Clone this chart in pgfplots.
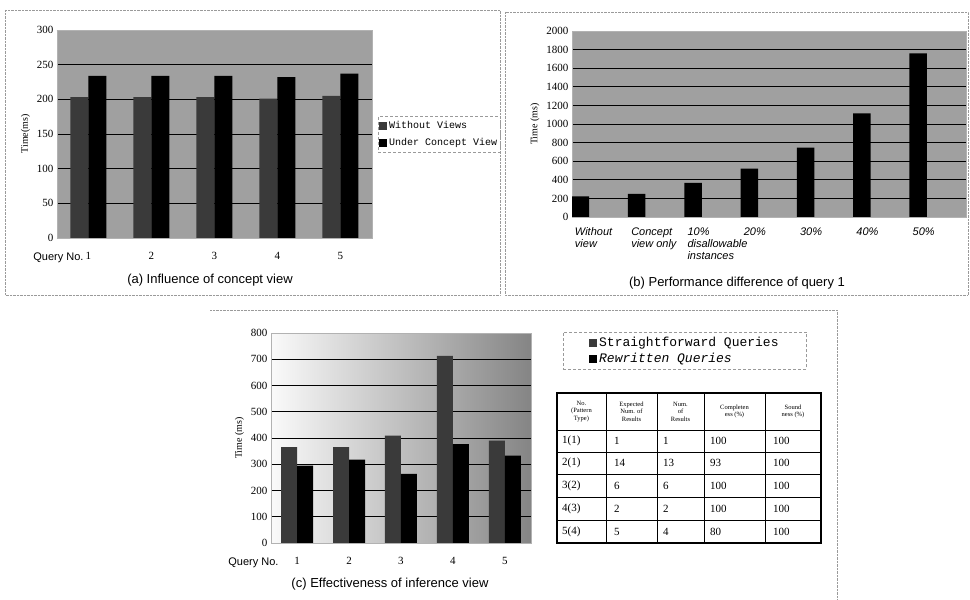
\documentclass[border=0pt]{standalone}
\usepackage{pgfplots}
\pgfplotsset{compat=1.18}
\usepackage{fontspec}
\setmainfont{Liberation Serif}
\setsansfont{Liberation Sans}
\setmonofont{Liberation Mono}

\definecolor{plotbg}{HTML}{A0A0A0}
\definecolor{darkbar}{HTML}{3A3A3A}
\definecolor{framegray}{HTML}{9A9A9A}

\pgfplotsset{
  panel/.style={
    scale only axis,
    anchor=south west,
    ybar=0pt,
    axis background/.style={fill=plotbg},
    ymajorgrids,
    grid style={black, line width=0.7pt},
    axis line style={gray!60},
    major tick length=0pt,
    tick label style={font=\fontsize{11}{12}\selectfont},
    /pgf/number format/assume math mode=true,
    /pgf/number format/1000 sep={},
    ylabel style={font=\fontsize{10}{12}\selectfont},
    legend cell align=left,
    legend image code/.code={\fill[##1] (0pt,-4pt) rectangle (8pt,4pt);},
    legend style={draw=framegray, densely dashed, fill=white,
      font=\ttfamily\fontsize{10}{12}\selectfont},
  },
}
\tikzset{caption/.style={font=\sffamily\fontsize{13}{15}\selectfont}}

\begin{document}
\begin{tikzpicture}[x=1pt,y=1pt]
\path[use as bounding box, fill=white] (0,0) rectangle (970,600);

% panel frames
\draw[framegray, densely dotted] (5,590) rectangle (500,305);
\draw[framegray, densely dotted] (505,588) rectangle (968,305);
\draw[framegray, densely dotted] (210,290) -- (837,290) -- (837,0);

% (a) Influence of concept view
\begin{axis}[panel, at={(57pt,362pt)}, width=315pt, height=208pt,
  ymin=0, ymax=300, ytick={0,50,...,300},
  xmin=0.5, xmax=5.5, xtick={1,2,3,4,5},
  xticklabel style={yshift=-11pt},
  bar width=18pt,
  ylabel={Time(ms)},
  legend style={at={(1.019,0.585)}, anchor=north west,
    inner xsep=1pt, inner ysep=3pt, row sep=4pt}]
\addplot[fill=darkbar, draw=none] coordinates {(1,203) (2,203) (3,203) (4,201) (5,205)};
\addlegendentry{Without Views}
\addplot[fill=black, draw=none] coordinates {(1,234) (2,234) (3,234) (4,232) (5,237)};
\addlegendentry{Under Concept View}
\end{axis}
\node[anchor=east, font=\sffamily\fontsize{11}{13}\selectfont] at (87,342) {Query No.};
\node[caption] at (210,320) {(a) Influence of concept view};

% (b) Performance difference of query 1
\begin{axis}[panel, at={(572pt,383pt)}, width=394pt, height=186pt,
  ymin=0, ymax=2000, ytick={0,200,...,2000},
  xmin=-0.15, xmax=6.85, xtick={0,1,...,6},
  xticklabels={{Without\\view},{Concept\\view only},{10\%\\disallowable\\instances},
    20\%,30\%,40\%,50\%},
  xticklabel style={anchor=north west, align=left, xshift=-9pt, yshift=-7pt,
    font=\sffamily\itshape\fontsize{11}{12}\selectfont},
  bar width=17.5pt,
  ylabel={Time (ms)}]
\addplot[fill=black, draw=none] coordinates {(0,223) (1,248) (2,366) (3,521) (4,747) (5,1113) (6,1759)};
\end{axis}
\node[caption] at (737,317) {(b) Performance difference of query 1};

% (c) Effectiveness of inference view
\begin{axis}[panel, at={(271pt,57pt)}, width=260pt, height=210pt,
  axis background/.style={left color=gray!4, right color=black!48},
  ymin=0, ymax=800, ytick={0,100,...,800},
  xmin=0.5, xmax=5.5, xtick={1,2,3,4,5},
  xticklabel style={yshift=-11pt},
  bar width=16pt,
  ylabel={Time (ms)},
  legend style={at={(1.123,1.005)}, anchor=north west,
    inner xsep=26pt, inner ysep=3pt, row sep=1pt,
    font=\ttfamily\fontsize{13}{15}\selectfont}]
\addplot[fill=darkbar, draw=none] coordinates {(1,365) (2,365) (3,409) (4,713) (5,390)};
\addlegendentry{Straightforward Queries}
\addplot[fill=black, draw=none] coordinates {(1,295) (2,318) (3,263) (4,377) (5,333)};
\addlegendentry{\textit{Rewritten Queries}}
\end{axis}
\node[anchor=east, font=\sffamily\fontsize{11}{13}\selectfont] at (282,37) {Query No.};
\node[caption] at (390,16) {(c) Effectiveness of inference view};

% result table
\draw[line width=1.1pt] (557,207) rectangle (821,57);
\foreach \x in {606,657,704,765} \draw[line width=0.9pt] (\x,207) -- (\x,57);
\foreach \y in {170,148,126,103,80} \draw[line width=0.9pt] (557,\y) -- (821,\y);
\begin{scope}[every node/.style={align=center, font=\fontsize{6.5}{7.5}\selectfont, inner sep=0pt}]
\node at (581.5,188.5) {No.\\(Pattern\\Type)};
\node at (631.5,188.5) {Expected\\Num. of\\Results};
\node at (680.5,188.5) {Num.\\of\\Results};
\node at (734.5,188.5) {Completen\\ess (\%)};
\node at (793,188.5) {Sound\\ness (\%)};
\end{scope}
\begin{scope}[every node/.style={anchor=west, font=\fontsize{11}{12}\selectfont, inner sep=0pt}]
\foreach \r/\a/\b/\c/\d/\e in {159/1(1)/1/1/100/100, 137/2(1)/14/13/93/100,
    114.5/3(2)/6/6/100/100, 91.5/4(3)/2/2/100/100, 68.5/5(4)/5/4/80/100} {
  \node at (562,\r) {\a};
  \node at (614,\r) {\b};
  \node at (663,\r) {\c};
  \node at (710,\r) {\d};
  \node at (773,\r) {\e};
}
\end{scope}
\end{tikzpicture}
\end{document}
